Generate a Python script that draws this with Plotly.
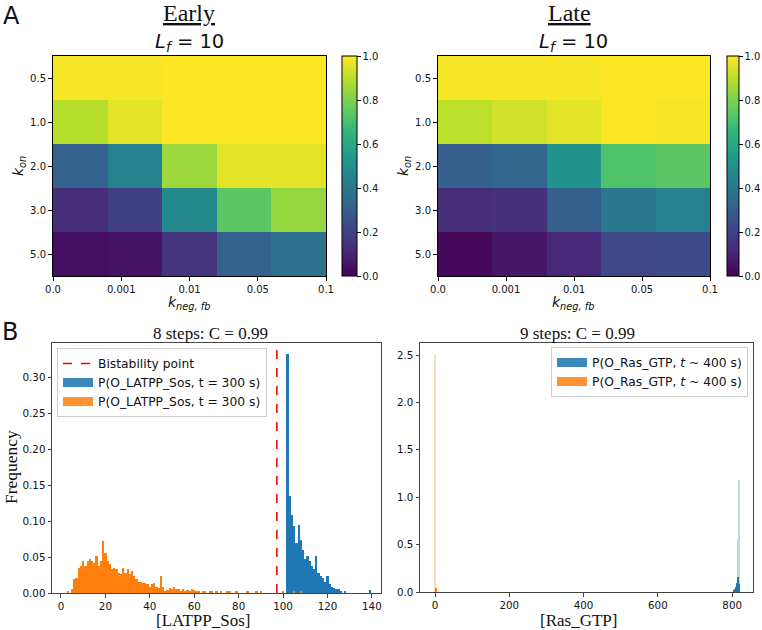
import numpy as np
import plotly.graph_objects as go

W, H = 762, 630

# ---------------- Panel A data ----------------
kneg_labels = ["0.0", "0.001", "0.01", "0.05", "0.1"]
kon_labels = ["0.5", "1.0", "2.0", "3.0", "5.0"]
early_z = [
    [0.99, 0.99, 1.00, 1.00, 1.00],
    [0.89, 0.96, 1.00, 1.00, 1.00],
    [0.31, 0.44, 0.85, 0.96, 0.96],
    [0.13, 0.19, 0.47, 0.74, 0.84],
    [0.04, 0.05, 0.15, 0.31, 0.37],
]
late_z = [
    [0.99, 0.99, 0.99, 1.00, 1.00],
    [0.90, 0.93, 0.96, 1.00, 0.99],
    [0.30, 0.33, 0.52, 0.72, 0.74],
    [0.13, 0.14, 0.30, 0.40, 0.44],
    [0.02, 0.06, 0.11, 0.22, 0.23],
]
cbar_ticks = [0.0, 0.2, 0.4, 0.6, 0.8, 1.0]

# ---------------- Panel B data ----------------
bistability_point = 97.2

latpp_orange_x = list(range(3, 91))
latpp_orange_y = [
    0.002, 0.000, 0.005, 0.019, 0.021, 0.035, 0.037, 0.044, 0.037, 0.044,  # 3-12
    0.047, 0.044, 0.042, 0.051, 0.037, 0.044, 0.072, 0.056, 0.044, 0.040,  # 13-22
    0.033, 0.035, 0.033, 0.028, 0.026, 0.035, 0.028, 0.033, 0.026, 0.030,  # 23-32
    0.023, 0.019, 0.016, 0.016, 0.014, 0.014, 0.012, 0.009, 0.012, 0.014,  # 33-42
    0.009, 0.007, 0.024, 0.009, 0.003, 0.004, 0.007, 0.006, 0.009, 0.005,  # 43-52
    0.006, 0.003, 0.005, 0.002, 0.004, 0.003, 0.005, 0.004, 0.002, 0.003,  # 53-62
    0.000, 0.002, 0.003, 0.000, 0.002, 0.003, 0.000, 0.002, 0.000, 0.002,  # 63-72
    0.000, 0.000, 0.002, 0.003, 0.000, 0.000, 0.002, 0.000, 0.000, 0.000,  # 73-82
    0.000, 0.002, 0.000, 0.000, 0.000, 0.003, 0.000, 0.003,                # 83-90
]
latpp_blue_x = list(range(102, 141))
latpp_blue_y = [
    0.332, 0.135, 0.109, 0.093, 0.070, 0.095, 0.074, 0.060, 0.047, 0.051,  # 102-111
    0.044, 0.037, 0.033, 0.051, 0.028, 0.023, 0.021, 0.016, 0.023, 0.012,  # 112-121
    0.009, 0.007, 0.005, 0.005, 0.002, 0.000, 0.003, 0.000, 0.000, 0.000,  # 122-131
    0.000, 0.000, 0.000, 0.000, 0.000, 0.000, 0.000, 0.004, 0.000,         # 132-140
]
latpp_orange_tail_x = [100, 105, 108]
latpp_orange_tail_y = [0.002, 0.002, 0.002]

ras_orange_x = [0, 2]
ras_orange_y = [2.5, 0.04]
ras_blue_x = [803, 805, 807, 809, 811, 813, 814, 815, 816, 817, 818, 819, 820]
ras_blue_y = [0.01, 0.02, 0.03, 0.05, 0.07, 0.10, 0.12, 0.56, 0.16, 0.15, 1.18, 0.08, 0.03]

legend_left = "P(O_LATPP_Sos, t = 300 s)"
legend_right = "P(O_Ras_GTP, <i>t</i> ~ 400 s)"

BLUE = "#1f77b4"
ORANGE = "#ff7f0e"
SANS = "DejaVu Sans"
SERIF = "Liberation Serif"


def px_x(p):
    return p / W


def px_y(p):
    return 1 - p / H


fig = go.Figure()

# ---------------- Heatmaps ----------------
for i, (z, cb_x, cb_w) in enumerate([(early_z, 342, 15), (late_z, 727, 12)]):
    ax = "" if i == 0 else "2"
    fig.add_trace(go.Heatmap(
        z=z, x=np.arange(len(kneg_labels)), y=kon_labels,
        colorscale="Viridis", zmin=0, zmax=1,
        xaxis="x" + ax, yaxis="y" + ax,
        colorbar=dict(
            x=px_x(cb_x), xanchor="left", y=px_y(166), yanchor="middle",
            len=220 / H, lenmode="fraction", thickness=cb_w, thicknessmode="pixels",
            outlinewidth=1, outlinecolor="black", ticks="outside", ticklen=3.5,
            tickcolor="black", tickvals=cbar_ticks, tickformat=".1f",
            tickfont=dict(family=SANS, size=10, color="#111"), xpad=0, ypad=0,
        ),
        hoverinfo="skip",
    ))

# ---------------- Histograms ----------------
bar_common = dict(marker_line_width=0, showlegend=False, hoverinfo="skip")
fig.add_trace(go.Bar(x=latpp_blue_x, y=latpp_blue_y, width=1, marker_color=BLUE,
                     xaxis="x3", yaxis="y3", **bar_common))
fig.add_trace(go.Bar(x=latpp_orange_x, y=latpp_orange_y, width=1, marker_color=ORANGE,
                     xaxis="x3", yaxis="y3", **bar_common))
fig.add_trace(go.Bar(x=latpp_orange_tail_x, y=latpp_orange_tail_y, width=1, marker_color=ORANGE,
                     xaxis="x3", yaxis="y3", **bar_common))
fig.add_trace(go.Bar(x=ras_blue_x, y=ras_blue_y, width=1,
                     marker=dict(color=BLUE, opacity=[1.0 if v < 0.3 else 0.3 for v in ras_blue_y]),
                     xaxis="x4", yaxis="y4", **bar_common))
fig.add_trace(go.Bar(x=ras_orange_x, y=ras_orange_y, width=2,
                     marker=dict(color=ORANGE, opacity=[1.0 if v < 0.3 else 0.3 for v in ras_orange_y]),
                     xaxis="x4", yaxis="y4", **bar_common))

# legend proxies
for name, col, lg, ax, rank in [
    (legend_left, "rgba(31,119,180,0.88)", "legend", "3", 2),
    (legend_left, "rgba(255,127,14,0.85)", "legend", "3", 3),
    (legend_right, "rgba(31,119,180,0.88)", "legend2", "4", 2),
    (legend_right, "rgba(255,127,14,0.85)", "legend2", "4", 3),
]:
    fig.add_trace(go.Scatter(x=[None], y=[None], mode="lines", name=name,
                             line=dict(color=col, width=9), legend=lg,
                             xaxis="x" + ax, yaxis="y" + ax, legendrank=rank))

fig.add_shape(type="line", xref="x3", yref="y3 domain", x0=bistability_point, x1=bistability_point,
              y0=0, y1=1, line=dict(color="red", width=1.6, dash="dash"),
              showlegend=True, name="Bistability point", legend="legend", legendrank=1)

# ---------------- Axes ----------------
tick_font_a = dict(family=SANS, size=10, color="#111")
tick_font_b = dict(family=SANS, size=10.3, color="#111")
heat_x = dict(range=[-0.5, 4.5], tickvals=np.linspace(-0.5, 4.5, len(kneg_labels)),
              ticktext=kneg_labels, showline=True, mirror=True, linecolor="black",
              linewidth=1, ticks="outside", ticklen=4, tickcolor="black",
              showgrid=False, zeroline=False, tickfont=tick_font_a)
heat_y = dict(autorange="reversed", type="category", showline=True, mirror=True,
              linecolor="black", linewidth=1, ticks="outside", ticklen=4,
              tickcolor="black", showgrid=False, zeroline=False, tickfont=tick_font_a)
hist_common = dict(showline=True, mirror=True, linecolor="#444", linewidth=1,
                   ticks="outside", ticklen=3.5, tickcolor="#444", showgrid=False,
                   zeroline=False, tickfont=tick_font_b)

fig.update_layout(
    width=W, height=H, margin=dict(l=0, r=0, t=0, b=0, autoexpand=False),
    paper_bgcolor="white", plot_bgcolor="white", barmode="overlay", bargap=0,
    xaxis=dict(domain=[px_x(53), px_x(326)], anchor="y", **heat_x),
    yaxis=dict(domain=[px_y(276), px_y(56)], anchor="x", **heat_y),
    xaxis2=dict(domain=[px_x(438), px_x(710)], anchor="y2", **heat_x),
    yaxis2=dict(domain=[px_y(276), px_y(56)], anchor="x2", **heat_y),
    xaxis3=dict(domain=[px_x(52), px_x(381)], anchor="y3", range=[-4.05, 144.1],
                tickvals=list(range(0, 141, 20)), **hist_common),
    yaxis3=dict(domain=[px_y(593), px_y(343)], anchor="x3", range=[0, 0.348],
                tickvals=[0, 0.05, 0.10, 0.15, 0.20, 0.25, 0.30], tickformat=".2f", **hist_common),
    xaxis4=dict(domain=[px_x(420), px_x(753)], anchor="y4", range=[-40.4, 856],
                tickvals=list(range(0, 801, 200)), **hist_common),
    yaxis4=dict(domain=[px_y(592), px_y(343)], anchor="x4", range=[0, 2.627],
                tickvals=[0, 0.5, 1.0, 1.5, 2.0, 2.5], tickformat=".1f", **hist_common),
    legend=dict(x=px_x(57), xanchor="left", y=px_y(348), yanchor="top",
                font=dict(family=SANS, size=12.3, color="#111"),
                bgcolor="rgba(255,255,255,0.8)", bordercolor="#cccccc", borderwidth=1,
                itemwidth=30, tracegroupgap=0),
    legend2=dict(x=px_x(748), xanchor="right", y=px_y(347), yanchor="top",
                 font=dict(family=SANS, size=12.3, color="#111"),
                 bgcolor="rgba(255,255,255,0.8)", bordercolor="#cccccc", borderwidth=1,
                 itemwidth=30, tracegroupgap=0),
)

# ---------------- Text ----------------
def note(text, x, y, size, family, angle=0, color="#111"):
    fig.add_annotation(text=text, x=px_x(x), y=px_y(y), xref="paper", yref="paper",
                       xanchor="center", yanchor="middle", showarrow=False, borderpad=0,
                       textangle=angle, font=dict(family=family, size=size, color=color))

note("A", 11, 16, 24, SANS)
note("B", 10, 332, 24, SANS)
note("<u>Early</u>", 189, 13, 24, SERIF)
note("<u>Late</u>", 569, 13, 24, SERIF)
note("<i>L</i><sub><i>f</i></sub> = 10", 189, 43, 19.5, SANS)
note("<i>L</i><sub><i>f</i></sub> = 10", 573, 43, 19.5, SANS)
note("<i>k</i><sub><i>on</i></sub>", 19, 166, 14, SANS, angle=-90)
note("<i>k</i><sub><i>on</i></sub>", 404, 166, 14, SANS, angle=-90)
note("<i>k</i><sub><i>neg, fb</i></sub>", 189, 303, 14, SANS)
note("<i>k</i><sub><i>neg, fb</i></sub>", 573, 303, 14, SANS)
note("8 steps: C = 0.99", 210, 333, 17, SERIF)
note("9 steps: C = 0.99", 577, 333, 17, SERIF)
note("Frequency", 11, 467, 17.5, SERIF, angle=-90)
note("[LATPP_Sos]", 203, 620, 17, SERIF)
note("[Ras_GTP]", 578, 620, 17, SERIF)

fig.write_html("out.html", config={"displayModeBar": False},
               post_script="document.body.style.margin='0';document.body.style.overflow='hidden';")
